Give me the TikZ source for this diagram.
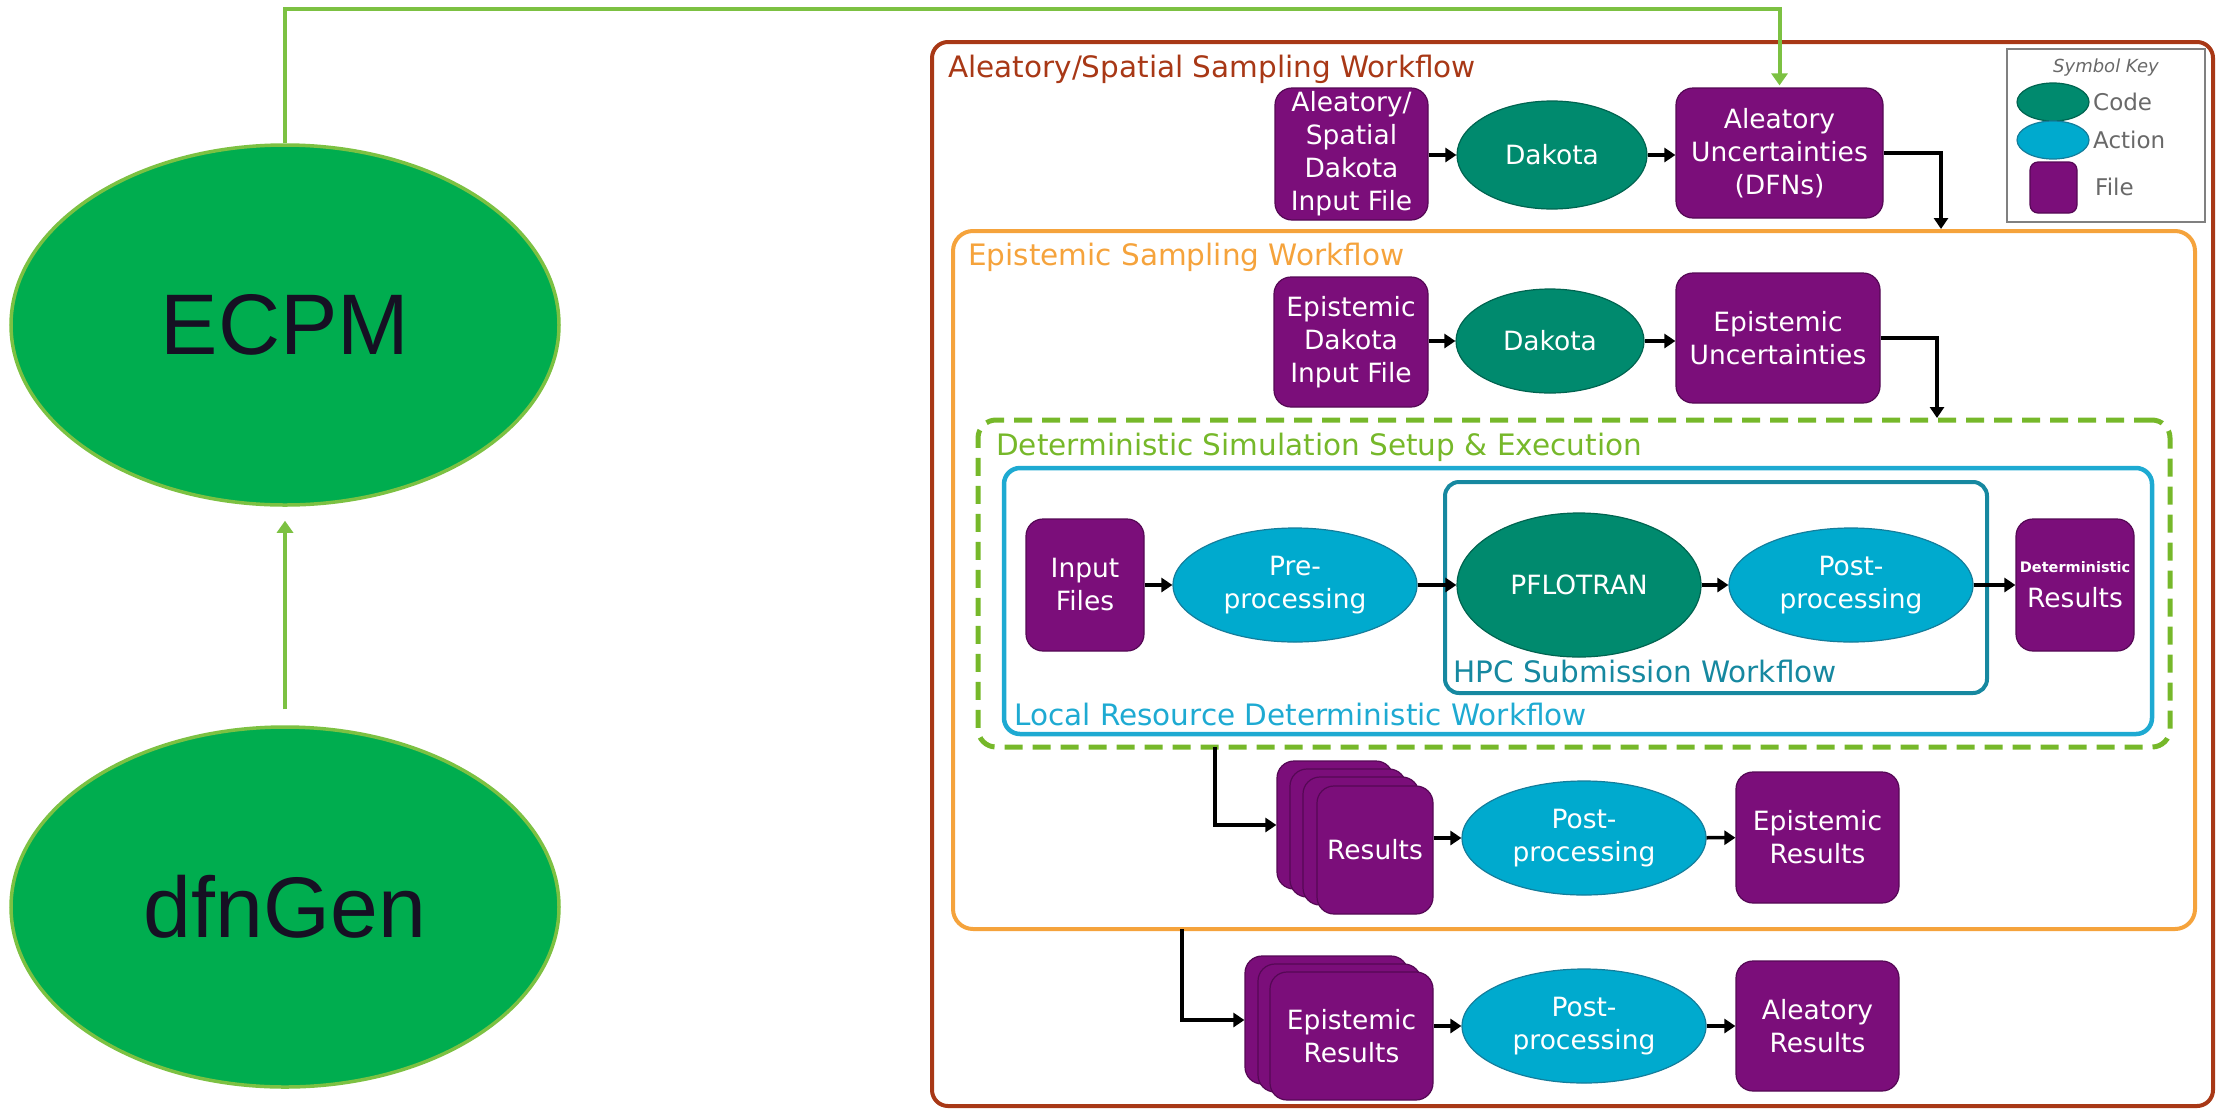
\documentclass[tikz,border=0pt]{standalone}
\usepackage{fontspec}
\setmainfont{DejaVu Sans}
\newfontfamily\arialf{Liberation Sans}
\usetikzlibrary{shapes.geometric,arrows.meta,calc,fit}

\definecolor{cpurple}{RGB}{123,14,122}
\definecolor{cpurpleD}{RGB}{85,8,85}
\definecolor{cteal}{RGB}{0,138,110}
\definecolor{ctealD}{RGB}{0,100,80}
\definecolor{ccyan}{RGB}{0,170,206}
\definecolor{ccyanD}{RGB}{20,125,155}
\definecolor{cbrown}{RGB}{168,56,22}
\definecolor{corange}{RGB}{245,163,60}
\definecolor{cgreendash}{RGB}{118,184,42}
\definecolor{cblue}{RGB}{30,170,210}
\definecolor{chpc}{RGB}{22,136,160}
\definecolor{cgreenfill}{RGB}{0,173,79}
\definecolor{cgreenline}{RGB}{124,193,66}
\definecolor{cgray}{RGB}{128,128,128}
\definecolor{cgraytext}{RGB}{105,105,105}
\definecolor{cdarktext}{RGB}{22,16,35}

\tikzset{
  nodefont/.style={font=\fontsize{26.5}{33}\selectfont, text=white, align=center},
  filebox/.style={nodefont, rectangle, rounded corners=17pt, fill=cpurple, draw=cpurpleD, line width=1.2pt, inner sep=0pt},
  codeell/.style={nodefont, ellipse, fill=cteal, draw=ctealD, line width=1.2pt, inner sep=0pt},
  actell/.style={nodefont, ellipse, fill=ccyan, draw=ccyanD, line width=1.2pt, inner sep=0pt},
  arr/.style={line width=3.5pt, -{Triangle[length=11pt,width=14pt]}},
  garr/.style={draw=cgreenline, line width=4pt, -{Triangle[length=12pt,width=16pt]}},
  bigell/.style={ellipse, fill=cgreenfill, draw=cgreenline, line width=3.5pt, inner sep=0pt,
    minimum width=548pt, minimum height=360pt, text=cdarktext, font=\arialf\fontsize{86}{86}\selectfont},
  container/.style={rectangle, inner sep=0pt},
  titletext/.style={anchor=base west, inner sep=0pt, font=\fontsize{29.5}{34}\selectfont},
  keytext/.style={anchor=west, inner sep=0pt, text=cgraytext, font=\fontsize{23}{26}\selectfont},
}

\begin{document}
\begin{tikzpicture}[x=1pt,y=-1pt]
\useasboundingbox (0,0) rectangle (2216,1109);

% containers
\node[container, draw=cbrown, line width=4pt, rounded corners=16pt, fit={(932,42) (2213,1106)}] (brownbox) {};
\node[container, draw=corange, line width=4pt, rounded corners=20pt, fit={(953,231) (2195,929)}] (orangebox) {};
\node[container, draw=cgreendash, line width=5pt, dash pattern=on 18pt off 10pt, rounded corners=18pt, fit={(978,420) (2170,747)}] (dashbox) {};
\node[container, draw=cblue, line width=4.5pt, rounded corners=16pt, fit={(1004,468) (2152,734)}] (localbox) {};
\node[container, draw=chpc, line width=4pt, rounded corners=14pt, fit={(1445,482) (1987,693)}] (hpcbox) {};

% titles
\node[titletext, text=cbrown] (t1) at (948,77) {Aleatory/Spatial Sampling Workflow};
\node[titletext, text=corange] (t2) at (968,265) {Epistemic Sampling Workflow};
\node[titletext, text=cgreendash] (t3) at (996,455) {Deterministic Simulation Setup \& Execution};
\node[titletext, text=cblue] (t4) at (1014,725) {Local Resource Deterministic Workflow};
\node[titletext, text=chpc] (t5) at (1453,682) {HPC Submission Workflow};

% legend
\node[container, draw=cgray, line width=2.5pt, fit={(2007,49) (2205,222)}] (keybox) {};
\node[inner sep=0pt, text=cgraytext, font=\itshape\fontsize{18}{20}\selectfont] (keytitle) at (2106,68) {Symbol Key};
\node[ellipse, fill=cteal, draw=ctealD, line width=1.2pt, minimum width=72pt, minimum height=38pt, inner sep=0pt] (keycode) at (2053,102) {};
\node[ellipse, fill=ccyan, draw=ccyanD, line width=1.2pt, minimum width=72pt, minimum height=38pt, inner sep=0pt] (keyact) at (2053,140) {};
\node[rectangle, rounded corners=8pt, fill=cpurple, draw=cpurpleD, line width=1.2pt, minimum width=47pt, minimum height=51pt, inner sep=0pt] (keyfile) at (2053.5,187.5) {};
\node[keytext] (kcode) at (2093,102) {Code};
\node[keytext] (kact) at (2093,140) {Action};
\node[keytext] (kfile) at (2095,187) {File};

% row 1
\node[filebox, minimum width=153pt, minimum height=132pt] (af) at (1351.5,154) {Aleatory/\\Spatial\\Dakota\\Input File};
\node[codeell, minimum width=190pt, minimum height=108pt] (dk1) at (1552,155) {Dakota};
\node[filebox, minimum width=207pt, minimum height=130pt] (au) at (1779.5,153) {Aleatory\\Uncertainties\\(DFNs)};

% row 2
\node[filebox, minimum width=154pt, minimum height=130pt] (ef) at (1351,342) {Epistemic\\Dakota\\Input File};
\node[codeell, minimum width=188pt, minimum height=104pt] (dk2) at (1550,341) {Dakota};
\node[filebox, minimum width=204pt, minimum height=130pt] (eu) at (1778,338) {Epistemic\\Uncertainties};

% row 3
\node[filebox, minimum width=118pt, minimum height=132pt] (inp) at (1085,585) {Input\\Files};
\node[actell, minimum width=244pt, minimum height=114pt] (pre) at (1295,585) {Pre-\\processing};
\node[codeell, minimum width=244pt, minimum height=144pt] (pfl) at (1579,585) {PFLOTRAN};
\node[actell, minimum width=244pt, minimum height=114pt] (post3) at (1851,585) {Post-\\processing};
\node[filebox, minimum width=118pt, minimum height=132pt] (det) at (2075,585) {{\bfseries\fontsize{14.5}{16}\selectfont Deterministic}\\[2pt]Results};

% row 4
\node[filebox, minimum width=116pt, minimum height=128pt] (res4a) at (1335,825) {};
\node[filebox, minimum width=116pt, minimum height=128pt] (res4b) at (1348,833) {};
\node[filebox, minimum width=116pt, minimum height=128pt] (res4c) at (1361,841) {};
\node[filebox, minimum width=116pt, minimum height=128pt] (res4) at (1375,850) {Results};
\node[actell, minimum width=244pt, minimum height=114pt] (pp4) at (1584,838) {Post-\\processing};
\node[filebox, minimum width=163pt, minimum height=131pt] (er4) at (1817.5,837.5) {Epistemic\\Results};

% row 5
\node[filebox, minimum width=163pt, minimum height=128pt] (res5a) at (1326.5,1020) {};
\node[filebox, minimum width=163pt, minimum height=128pt] (res5b) at (1339.5,1028) {};
\node[filebox, minimum width=163pt, minimum height=128pt] (res5) at (1351.5,1036) {Epistemic\\Results};
\node[actell, minimum width=244pt, minimum height=114pt] (pp5) at (1584,1026) {Post-\\processing};
\node[filebox, minimum width=163pt, minimum height=130pt] (ar5) at (1817.5,1026) {Aleatory\\Results};

% left
\node[bigell] (ecpm) at (285,325) {ECPM};
\node[bigell] (dfn) at (285,907) {dfnGen};

% coordinates
\coordinate (k1) at (1941,229);
\coordinate (k2) at (1937,418);
\coordinate (k3) at (1215,747);
\coordinate (k4) at (1182,929);
\coordinate (gtop) at (0,9);

% connectors
\draw[arr] (af.east |- dk1) -- (dk1.west);
\draw[arr] (dk1.east) -- (au.west |- dk1);
\draw[arr] (au.east) -| (k1);
\draw[arr] (ef.east |- dk2) -- (dk2.west);
\draw[arr] (dk2.east) -- (eu.west |- dk2);
\draw[arr] (eu.east) -| (k2);
\draw[arr] (inp) -- (pre);
\draw[arr] (pre) -- (pfl);
\draw[arr] (pfl) -- (post3);
\draw[arr] (post3) -- (det);
\draw[arr] (k3) |- (res4a.west);
\draw[arr] (res4.east |- pp4.west) -- (pp4.west);
\draw[arr] (pp4) -- (er4);
\draw[arr] (k4) |- (res5a.west);
\draw[arr] (res5.east |- pp5.west) -- (pp5.west);
\draw[arr] (pp5) -- (ar5);

\draw[garr, shorten >=2pt] (ecpm.north) |- (gtop -| au.north) -- (au.north);
\draw[garr, shorten <=16pt, shorten >=14pt] (dfn.north) -- (ecpm.south);
\end{tikzpicture}
\end{document}
